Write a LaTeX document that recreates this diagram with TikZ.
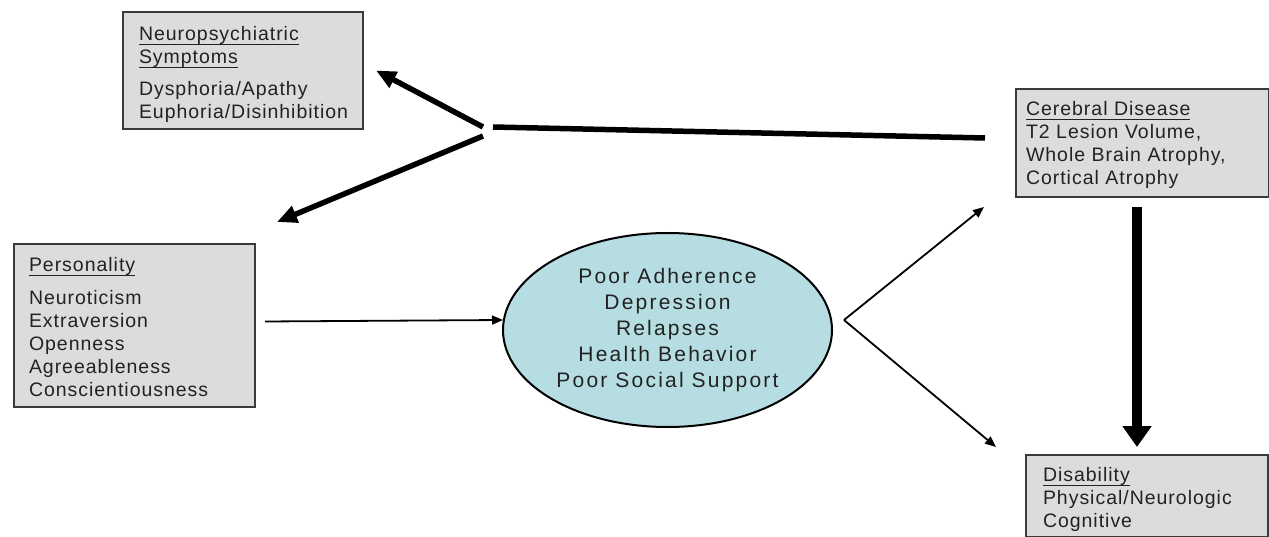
\documentclass[tikz,border=0pt]{standalone}
\usepackage{fontspec}
\setmainfont{Liberation Sans}
\newsavebox{\myulbox}
\newcommand{\myul}[1]{\mbox{\sbox{\myulbox}{#1}\rlap{\rule[-4.5pt]{\wd\myulbox}{1.1pt}}\usebox{\myulbox}}}
\usetikzlibrary{arrows.meta,shapes.geometric,calc}
\definecolor{boxfill}{HTML}{DCDCDC}
\definecolor{boxline}{HTML}{3A3A3A}
\definecolor{ellfill}{HTML}{B6DDE2}
\definecolor{txt}{HTML}{222222}
\begin{document}
\begin{tikzpicture}[x=1pt,y=-1pt,
  box/.style={draw=boxline,line width=2pt,fill=boxfill,anchor=north west,align=left,text=txt,
    font=\fontsize{19.5}{23}\selectfont\addfontfeature{LetterSpace=5},inner ysep=0pt},
  topgap/.style={execute at begin node={\rule{0pt}{#1}}},
  ellnode/.style={ellipse,draw=black,line width=2pt,fill=ellfill,align=center,text=txt,inner sep=0pt,
    font=\fontsize{21}{26}\selectfont\addfontfeature{LetterSpace=10.5}},
  thickarrow/.style={line width=5.5pt,-{Triangle[length=20pt,width=17pt]}},
  thickline/.style={line width=5.5pt},
  thinarrow/.style={line width=1.8pt,-{Triangle[length=11pt,width=9pt]}},
  bigarrow/.style={line width=10pt,-{Triangle[length=21pt,width=28pt]}}]
\useasboundingbox (0,0) rectangle (1269,537);

\node[box,topgap=22pt,inner xsep=16pt,text width=208pt,minimum height=117pt] (neuro) at (122,11)
  {\myul{Neuropsychiatric}\\\myul{Symptoms}\\[9pt]Dysphoria/Apathy\\Euphoria/Disinhibition};
\node[box,topgap=18pt,inner xsep=15pt,text width=211pt,minimum height=163pt] (pers) at (13,243)
  {\myul{Personality}\\[10pt]Neuroticism\\Extraversion\\Openness\\Agreeableness\\Conscientiousness};
\node[box,topgap=18pt,inner xsep=10pt,text width=233pt,minimum height=108pt] (cereb) at (1015,88)
  {\myul{Cerebral Disease}\\T2 Lesion Volume,\\Whole Brain Atrophy,\\Cortical Atrophy};
\node[box,topgap=22pt,inner xsep=17pt,text width=208pt,minimum height=82pt] (disab) at (1025,454)
  {\myul{Disability}\\Physical/Neurologic\\Cognitive};
\node[ellnode,minimum width=329pt,minimum height=194pt] (ell) at (667.5,330)
  {Poor Adherence\\Depression\\Relapses\\Health Behavior\\Poor Social Support};

\coordinate (jA) at (493,127);
\coordinate (jB) at (483,127);
\coordinate (jC) at (483,136);
\coordinate (cstart) at ($(cereb.west)+(-30,-5)$);
\coordinate (V) at ($(ell.east)+(11,-10)$);

\draw[thickline] (cstart) -- (jA);
\draw[thickarrow] (jB) -- ($(neuro.east)+(12,0)$);
\draw[thickarrow] (jC) -- ($(pers.north east)+(21,-21)$);
\draw[thinarrow] ($(pers.east)+(9,-4)$) -- ($(ell.west)+(1,-10)$);
\draw[thinarrow] (V) -- ($(cereb.south west)+(-31,9)$);
\draw[thinarrow] (V) -- ($(disab.north west)+(-29,-7)$);
\draw[bigarrow] ($(cereb.south west)+(122,9)$) -- ($(disab.north west)+(112,-7)$);
\end{tikzpicture}
\end{document}
